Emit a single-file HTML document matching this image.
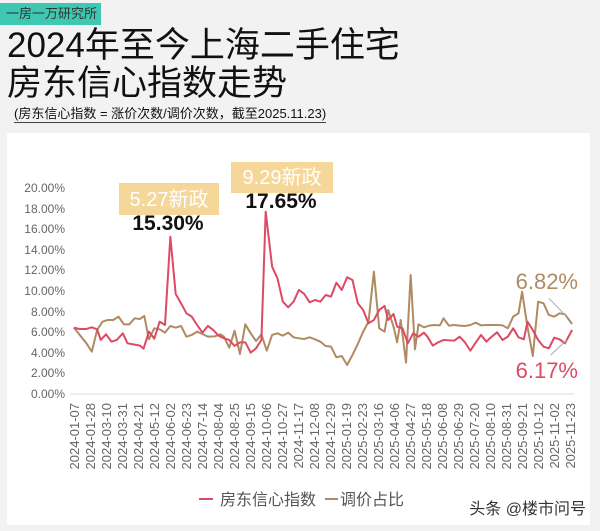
<!DOCTYPE html>
<html><head><meta charset="utf-8"><style>
body{margin:0;width:600px;height:531px;background:#f2f2f2;overflow:hidden;font-family:"Liberation Sans","Noto Sans CJK SC",sans-serif;position:relative}
.a{position:absolute;white-space:nowrap}
</style></head><body>
<div class="a" style="left:0;top:3px;width:101px;height:22px;background:#3ec7b3"></div>
<div class="a" style="left:6px;top:5px;font-size:13px;color:#333;line-height:18px">一房一万研究所</div>
<div class="a" style="left:7px;top:26px;font-size:35px;line-height:40px;color:#111">2024年至今上海二手住宅</div>
<div class="a" style="left:7px;top:64px;font-size:35px;line-height:40px;color:#111">房东信心指数走势</div>
<div class="a" style="left:14px;top:106px;font-size:13px;line-height:16px;color:#111;border-bottom:1px solid #444">(房东信心指数 = 涨价次数/调价次数，截至2025.11.23)</div>
<div class="a" style="left:7px;top:133px;width:583px;height:392px;background:#fff"></div>
<svg class="a" style="left:0;top:0" width="600" height="531">
<g font-size="12" fill="#666" text-anchor="end" font-family="Liberation Sans,sans-serif">
<text x="65" y="192">20.00%</text><text x="65" y="213">18.00%</text><text x="65" y="233">16.00%</text><text x="65" y="254">14.00%</text><text x="65" y="274">12.00%</text><text x="65" y="295">10.00%</text><text x="65" y="316">8.00%</text><text x="65" y="336">6.00%</text><text x="65" y="357">4.00%</text><text x="65" y="377">2.00%</text><text x="65" y="398">0.00%</text>
</g>
<line x1="70" y1="394" x2="574" y2="394" stroke="#ddd"/>
<g font-size="13" fill="#666" font-family="Liberation Sans,sans-serif" id="xl"></g>
<g transform="translate(40,140) scale(0.3571,0.3333)" fill="none" stroke-linejoin="round">
<polyline stroke="#b08a62" stroke-width="2" vector-effect="non-scaling-stroke" points="95,563 115,590 130,610 145,635 160,570 175,545 190,540 205,540 220,530 235,553 250,553 265,535 280,537 292,528 305,598 320,565 335,568 350,578 365,558 380,563 395,558 410,590 425,585 440,575 455,582 470,590 490,589 505,583 515,590 530,623 545,572 560,642 575,553 590,580 605,603 620,583 635,632 650,585 665,580 680,587 695,578 710,592 725,595 740,597 755,592 770,598 785,605 800,618 815,620 830,652 845,648 860,675 875,645 890,612 905,575 920,545 935,395 950,565 965,575 975,510 990,560 1000,607 1010,540 1025,668 1038,405 1050,628 1060,553 1075,562 1090,557 1105,555 1120,556 1130,535 1145,557 1160,555 1175,557 1190,558 1205,555 1220,548 1235,556 1250,555 1265,555 1280,555 1295,556 1310,565 1325,530 1340,520 1350,455 1365,560 1380,648 1395,485 1410,490 1425,525 1440,530 1455,520 1470,523 1490,552"/>
<polyline stroke="#dc4a63" stroke-width="2" vector-effect="non-scaling-stroke" points="95,563 110,567 130,567 145,562 160,568 170,600 185,583 200,605 215,600 232,580 245,610 265,614 280,617 290,626 305,575 320,596 335,545 350,555 365,290 380,462 395,490 410,520 425,530 440,555 455,578 470,558 485,570 500,587 515,595 530,600 545,618 560,607 575,607 590,638 605,625 620,600 632,215 650,380 665,415 680,485 695,502 710,485 725,450 740,462 755,487 770,480 785,485 800,465 815,470 830,428 845,450 860,412 875,420 890,490 905,510 920,550 935,540 950,510 965,498 975,540 990,522 1000,560 1015,565 1030,610 1045,580 1060,590 1075,578 1085,590 1100,617 1115,607 1130,600 1145,601 1160,602 1175,590 1190,607 1205,632 1220,608 1235,585 1250,605 1265,590 1280,577 1295,600 1310,590 1325,565 1340,592 1355,598 1365,545 1380,570 1395,600 1410,620 1425,625 1440,593 1455,598 1470,610 1490,570"/>
<line x1="1425" y1="475" x2="1475" y2="530" stroke="#aaa" stroke-width="1" vector-effect="non-scaling-stroke"/>
<line x1="1430" y1="645" x2="1475" y2="600" stroke="#aaa" stroke-width="1" vector-effect="non-scaling-stroke"/>
</g>
<rect x="119" y="183" width="100" height="32" fill="#f6d79a"/>
<text x="169" y="206" font-size="20" fill="#fff" text-anchor="middle" font-family="Liberation Sans,Noto Sans CJK SC,sans-serif">5.27新政</text>
<text x="168" y="230" font-size="21" font-weight="bold" fill="#111" text-anchor="middle" font-family="Liberation Sans,sans-serif">15.30%</text>
<rect x="231" y="162" width="102" height="31" fill="#f6d79a"/>
<text x="282" y="184" font-size="20" fill="#fff" text-anchor="middle" font-family="Liberation Sans,Noto Sans CJK SC,sans-serif">9.29新政</text>
<text x="281" y="208" font-size="21" font-weight="bold" fill="#111" text-anchor="middle" font-family="Liberation Sans,sans-serif">17.65%</text>
<text x="578" y="289" font-size="22" fill="#b08a62" text-anchor="end" font-family="Liberation Sans,sans-serif">6.82%</text>
<text x="578" y="378" font-size="22" fill="#dc4a63" text-anchor="end" font-family="Liberation Sans,sans-serif">6.17%</text>
<line x1="199" y1="499" x2="213" y2="499" stroke="#dc4a63" stroke-width="2"/>
<text x="220" y="505" font-size="16" fill="#555" font-family="Liberation Sans,Noto Sans CJK SC,sans-serif">房东信心指数</text>
<line x1="325" y1="499" x2="338" y2="499" stroke="#b08a62" stroke-width="2"/>
<text x="340" y="505" font-size="16" fill="#555" font-family="Liberation Sans,Noto Sans CJK SC,sans-serif">调价占比</text>
<text x="586" y="514" font-size="16" fill="#333" text-anchor="end" font-family="Liberation Sans,Noto Sans CJK SC,sans-serif">头条 @楼市问号</text>
</svg>
<script>
var d=["2024-01-07","2024-01-28","2024-03-10","2024-03-31","2024-04-21","2024-05-12","2024-06-02","2024-06-23","2024-07-14","2024-08-04","2024-08-25","2024-09-15","2024-10-06","2024-10-27","2024-11-17","2024-12-08","2024-12-29","2025-01-19","2025-02-23","2025-03-16","2025-04-06","2025-04-27","2025-05-18","2025-06-08","2025-06-29","2025-07-20","2025-08-10","2025-08-31","2025-09-21","2025-10-12","2025-11-02","2025-11-23"];
var g=document.getElementById('xl'),s='';
for(var i=0;i<d.length;i++){var x=74+i*16;s+='<text transform="translate('+(x+5)+',403) rotate(-90)" text-anchor="end">'+d[i]+'</text>';}
g.innerHTML=s;
</script>
</body></html>
